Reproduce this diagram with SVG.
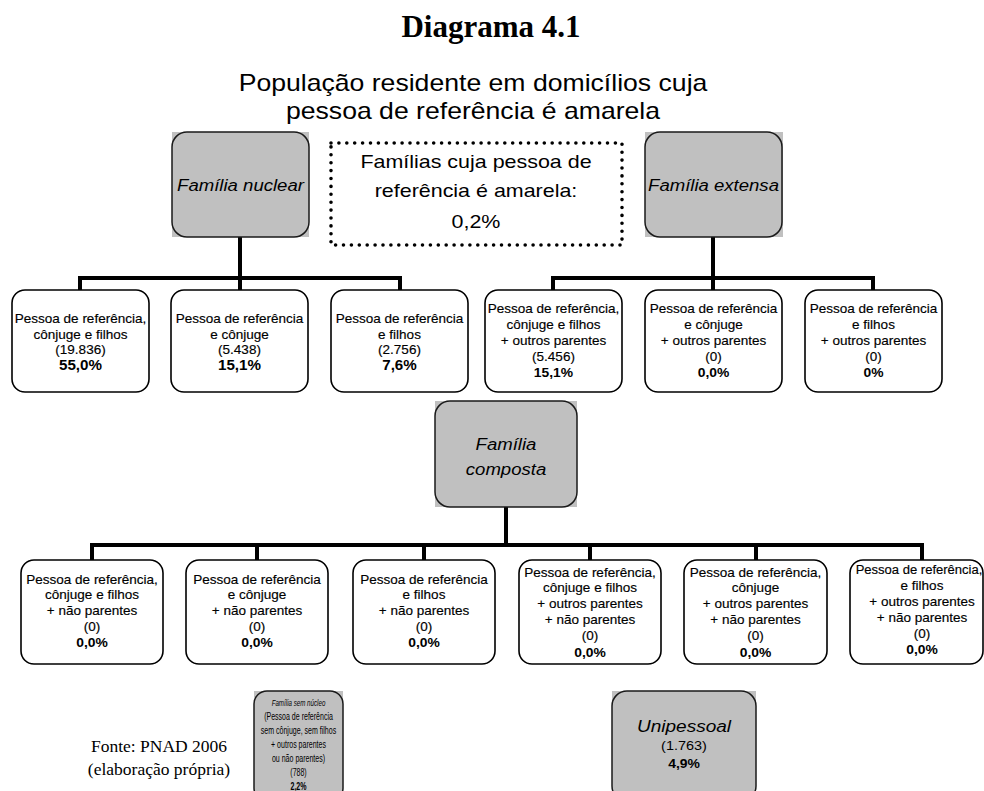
<svg xmlns="http://www.w3.org/2000/svg" width="984" height="791" viewBox="0 0 984 791">
<style>
  .bg { fill: #ffffff; }
  .gfill { fill: #c0c0c0; stroke: none; }
  .gbox { fill: #c0c0c0; stroke: #1a1a1a; stroke-width: 1.5; }
  .wbox { fill: #ffffff; stroke: #000000; stroke-width: 1.6; }
  .dot { fill: none; stroke: #000000; stroke-width: 3.6; stroke-linecap: round; stroke-dasharray: 0 7.9; }
  .conn { fill: none; stroke: #000000; stroke-width: 4; stroke-linecap: butt; }
  .sans { font-family: "Liberation Sans", Arial, sans-serif; fill: #000; text-anchor: middle; }
  .serif { font-family: "Liberation Serif", "Times New Roman", serif; fill: #000; text-anchor: middle; }
  .title { font-size: 31px; font-weight: bold; }
  .sub { font-size: 23px; }
  .dotted { font-size: 18.5px; }
  .glab { font-size: 16px; font-style: italic; }
  .bt { font-size: 12.3px; stroke: #000; stroke-width: 0.15; }
  .bb { font-size: 12.6px; font-weight: bold; }
  .bbn { font-size: 13.8px; font-weight: bold; }
  .src { font-size: 17.5px; }
  .sm { font-size: 10.2px; }
</style>
<rect class="bg" x="0" y="0" width="984" height="791"/>

<g id="title">
  <text class="serif title" x="491" y="37">Diagrama 4.1</text>
  <g transform="translate(473 0) scale(1.157 1)">
    <text class="sans sub" x="0" y="91">População residente em domicílios cuja</text>
    <text class="sans sub" x="0" y="119">pessoa de referência é amarela</text>
  </g>
</g>

<g id="connectors">
  <path class="conn" d="M240 237 V278 M80 278 H400 M80 276 V290 M240 278 V290 M400 276 V290"/>
  <path class="conn" d="M713 237 V278 M553 278 H873 M553 276 V290 M713 278 V290 M873 276 V290"/>
  <path class="conn" d="M506 507 V545 M92 545 H922 M92 543 V560 M257 545 V560 M424 545 V560 M590 545 V560 M756 545 V560 M922 543 V560"/>
</g>

<g id="familia-nuclear">
  <rect class="gfill" x="172" y="132" width="137" height="105"/>
  <rect class="gbox" x="172" y="132" width="137" height="105" rx="15"/>
  <g transform="translate(240.5 0) scale(1.16 1)"><text class="sans glab" x="0" y="191">Família nuclear</text></g>
</g>

<g id="familias-total">
  <rect class="dot" x="331" y="143" width="291" height="102"/>
  <g transform="translate(476 0) scale(1.16 1)">
    <text class="sans dotted" x="0" y="168">Famílias cuja pessoa de</text>
    <text class="sans dotted" x="0" y="197">referência é amarela:</text>
    <text class="sans dotted" x="0" y="228">0,2%</text>
  </g>
</g>

<g id="familia-extensa">
  <rect class="gfill" x="645" y="132" width="138" height="105"/>
  <rect class="gbox" x="645" y="132" width="137" height="105" rx="15"/>
  <g transform="translate(713.5 0) scale(1.16 1)"><text class="sans glab" x="0" y="191">Família extensa</text></g>
</g>

<g id="n1">
  <rect class="wbox" x="12" y="290" width="137" height="102" rx="13"/>
  <g transform="translate(80.5 0) scale(1.1 1)">
    <text class="sans bt" x="0" y="323">Pessoa de referência,</text>
    <text class="sans bt" x="0" y="339">cônjuge e filhos</text>
    <text class="sans bt" x="0" y="354.5">(19.836)</text>
    <text class="sans bbn" x="0" y="370">55,0%</text>
  </g>
</g>
<g id="n2">
  <rect class="wbox" x="171" y="290" width="137" height="102" rx="13"/>
  <g transform="translate(239.5 0) scale(1.1 1)">
    <text class="sans bt" x="0" y="323">Pessoa de referência</text>
    <text class="sans bt" x="0" y="339">e cônjuge</text>
    <text class="sans bt" x="0" y="354.5">(5.438)</text>
    <text class="sans bbn" x="0" y="370">15,1%</text>
  </g>
</g>
<g id="n3">
  <rect class="wbox" x="331" y="290" width="137" height="102" rx="13"/>
  <g transform="translate(399.5 0) scale(1.1 1)">
    <text class="sans bt" x="0" y="323">Pessoa de referência</text>
    <text class="sans bt" x="0" y="339">e filhos</text>
    <text class="sans bt" x="0" y="354.5">(2.756)</text>
    <text class="sans bbn" x="0" y="370">7,6%</text>
  </g>
</g>

<g id="e1">
  <rect class="wbox" x="485" y="290" width="137" height="102" rx="13"/>
  <g transform="translate(553.5 0) scale(1.1 1)">
    <text class="sans bt" x="0" y="313">Pessoa de referência,</text>
    <text class="sans bt" x="0" y="329">cônjuge e filhos</text>
    <text class="sans bt" x="0" y="345">+ outros parentes</text>
    <text class="sans bt" x="0" y="361">(5.456)</text>
    <text class="sans bb" x="0" y="377">15,1%</text>
  </g>
</g>
<g id="e2">
  <rect class="wbox" x="645" y="290" width="137" height="102" rx="13"/>
  <g transform="translate(713.5 0) scale(1.1 1)">
    <text class="sans bt" x="0" y="313">Pessoa de referência</text>
    <text class="sans bt" x="0" y="329">e cônjuge</text>
    <text class="sans bt" x="0" y="345">+ outros parentes</text>
    <text class="sans bt" x="0" y="361">(0)</text>
    <text class="sans bb" x="0" y="377">0,0%</text>
  </g>
</g>
<g id="e3">
  <rect class="wbox" x="805" y="290" width="137" height="102" rx="13"/>
  <g transform="translate(873.5 0) scale(1.1 1)">
    <text class="sans bt" x="0" y="313">Pessoa de referência</text>
    <text class="sans bt" x="0" y="329">e filhos</text>
    <text class="sans bt" x="0" y="345">+ outros parentes</text>
    <text class="sans bt" x="0" y="361">(0)</text>
    <text class="sans bb" x="0" y="377">0%</text>
  </g>
</g>

<g id="familia-composta">
  <rect class="gfill" x="435" y="401" width="142" height="106"/>
  <rect class="gbox" x="435" y="401" width="142" height="106" rx="15"/>
  <g transform="translate(506 0) scale(1.16 1)">
    <text class="sans glab" x="0" y="450">Família</text>
    <text class="sans glab" x="0" y="475">composta</text>
  </g>
</g>

<g id="c1">
  <rect class="wbox" x="21" y="560" width="142" height="104" rx="13"/>
  <g transform="translate(92 0) scale(1.1 1)">
    <text class="sans bt" x="0" y="584">Pessoa de referência,</text>
    <text class="sans bt" x="0" y="599.5">cônjuge e filhos</text>
    <text class="sans bt" x="0" y="615">+ não parentes</text>
    <text class="sans bt" x="0" y="631">(0)</text>
    <text class="sans bb" x="0" y="647">0,0%</text>
  </g>
</g>
<g id="c2">
  <rect class="wbox" x="186" y="560" width="142" height="104" rx="13"/>
  <g transform="translate(257 0) scale(1.1 1)">
    <text class="sans bt" x="0" y="584">Pessoa de referência</text>
    <text class="sans bt" x="0" y="599.5">e cônjuge</text>
    <text class="sans bt" x="0" y="615">+ não parentes</text>
    <text class="sans bt" x="0" y="631">(0)</text>
    <text class="sans bb" x="0" y="647">0,0%</text>
  </g>
</g>
<g id="c3">
  <rect class="wbox" x="353" y="560" width="142" height="104" rx="13"/>
  <g transform="translate(424 0) scale(1.1 1)">
    <text class="sans bt" x="0" y="584">Pessoa de referência</text>
    <text class="sans bt" x="0" y="599.5">e filhos</text>
    <text class="sans bt" x="0" y="615">+ não parentes</text>
    <text class="sans bt" x="0" y="631">(0)</text>
    <text class="sans bb" x="0" y="647">0,0%</text>
  </g>
</g>
<g id="c4">
  <rect class="wbox" x="519" y="560" width="142" height="104" rx="13"/>
  <g transform="translate(590 0) scale(1.1 1)">
    <text class="sans bt" x="0" y="577">Pessoa de referência,</text>
    <text class="sans bt" x="0" y="592.5">cônjuge e filhos</text>
    <text class="sans bt" x="0" y="608.5">+ outros parentes</text>
    <text class="sans bt" x="0" y="624">+ não parentes</text>
    <text class="sans bt" x="0" y="640.5">(0)</text>
    <text class="sans bb" x="0" y="657">0,0%</text>
  </g>
</g>
<g id="c5">
  <rect class="wbox" x="684" y="560" width="143" height="104" rx="13"/>
  <g transform="translate(755.5 0) scale(1.1 1)">
    <text class="sans bt" x="0" y="577">Pessoa de referência,</text>
    <text class="sans bt" x="0" y="592.5">cônjuge</text>
    <text class="sans bt" x="0" y="608.5">+ outros parentes</text>
    <text class="sans bt" x="0" y="624">+ não parentes</text>
    <text class="sans bt" x="0" y="640.5">(0)</text>
    <text class="sans bb" x="0" y="657">0,0%</text>
  </g>
</g>
<g id="c6">
  <rect class="wbox" x="850" y="560" width="133" height="104" rx="13"/>
  <g transform="translate(919 0) scale(1.06 1)">
    <text class="sans bt" x="0" y="574">Pessoa de referência,</text>
  </g>
  <g transform="translate(922 0) scale(1.1 1)">
    <text class="sans bt" x="0" y="590">e filhos</text>
    <text class="sans bt" x="0" y="606">+ outros parentes</text>
    <text class="sans bt" x="0" y="622">+ não parentes</text>
    <text class="sans bt" x="0" y="638">(0)</text>
    <text class="sans bb" x="0" y="654">0,0%</text>
  </g>
</g>

<g id="fonte">
  <text class="serif src" x="159" y="752">Fonte: PNAD 2006</text>
  <text class="serif src" x="159" y="775">(elaboração própria)</text>
</g>

<g id="sem-nucleo">
  <rect class="gfill" x="254" y="691" width="89" height="110"/>
  <rect class="gbox" x="254" y="691" width="89" height="110" rx="13"/>
  <g transform="translate(298.5 0) scale(0.69 1)">
    <text class="sans" x="0" y="706.5" style="font-size:9px;font-style:italic">Família sem núcleo</text>
    <text class="sans sm" x="0" y="720">(Pessoa de referência</text>
    <text class="sans sm" x="0" y="734">sem cônjuge, sem filhos</text>
    <text class="sans sm" x="0" y="748">+ outros parentes</text>
    <text class="sans sm" x="0" y="762">ou não parentes)</text>
    <text class="sans sm" x="0" y="776.5">(788)</text>
    <text class="sans sm" x="0" y="790" style="font-weight:bold">2,2%</text>
  </g>
</g>

<g id="unipessoal">
  <rect class="gfill" x="612" y="691" width="144" height="110"/>
  <rect class="gbox" x="612" y="691" width="144" height="110" rx="15"/>
  <g transform="translate(684 0) scale(1.16 1)">
    <text class="sans" x="0" y="732" style="font-size:16.4px;font-style:italic">Unipessoal</text>
    <text class="sans" x="0" y="750" style="font-size:12.5px">(1.763)</text>
    <text class="sans" x="0" y="768" style="font-size:12px;font-weight:bold">4,9%</text>
  </g>
</g>
</svg>
